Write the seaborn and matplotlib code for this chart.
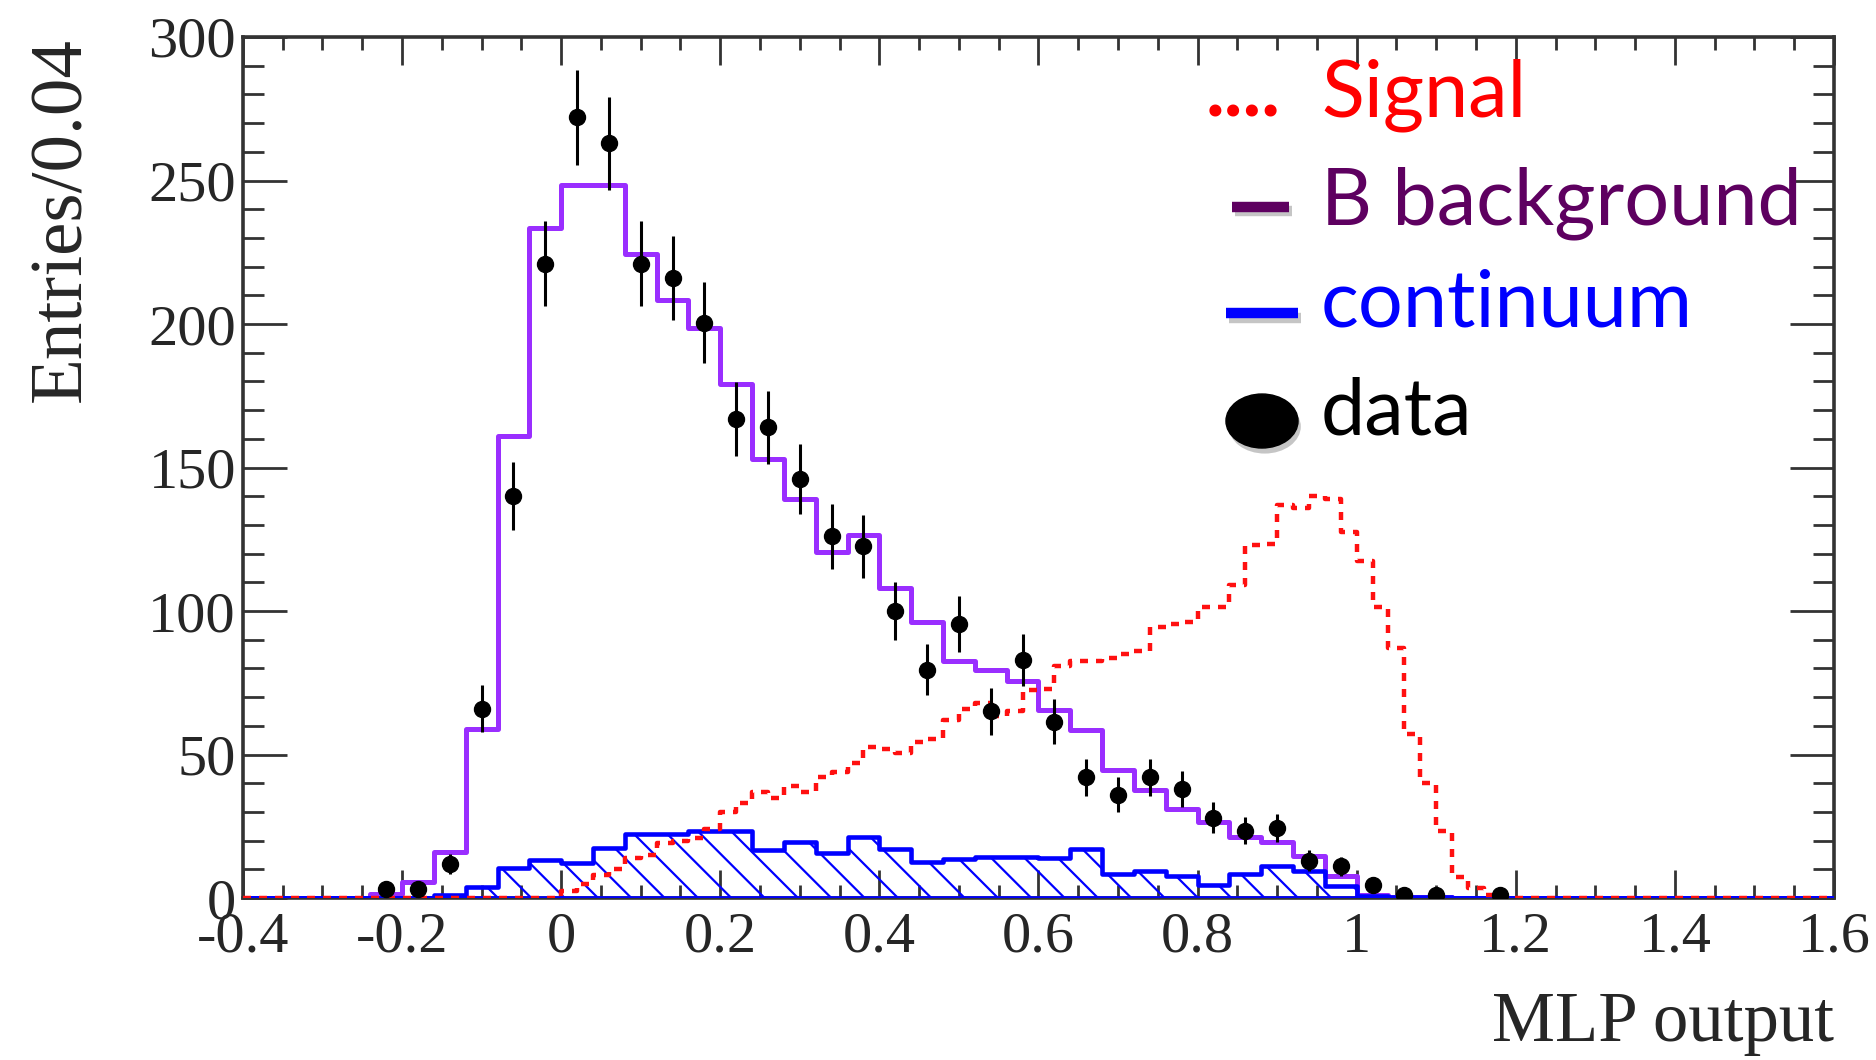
import numpy as np
import matplotlib
matplotlib.use("Agg")
import matplotlib.pyplot as plt
import matplotlib.patheffects as pe
from matplotlib.patches import Ellipse
from matplotlib.ticker import MultipleLocator
import seaborn as sns

# ---- data ----
# MLP output histograms, 0.04 wide bins from -0.4 to 1.6 (50 bins)
b_background = [0, 0, 0, 0, 1.5, 5.5, 16, 59, 161, 233.5,
                248.5, 248.5, 224.5, 208.5, 198.5, 179, 153, 139, 120.5, 126.5,
                108, 96, 82.5, 79.5, 75.5, 65.5, 58.7, 44.5, 37.5, 31,
                26.5, 21.2, 19.5, 14.8, 7.8, 1.2, 0.5, 0.3, 0, 0,
                0, 0, 0, 0, 0, 0, 0, 0, 0, 0]
continuum = [0, 0, 0, 0, 0, 0, 1, 3.7, 10.6, 13.2,
             12.3, 17.3, 22.3, 22.3, 23.5, 23.5, 16.7, 19.5, 15.8, 21.1,
             17, 12.6, 13.5, 14.4, 14.4, 13.8, 17, 8.4, 9.3, 7.6,
             4.7, 8.5, 11.1, 9.3, 4.1, 0.8, 0.4, 0.3, 0, 0,
             0, 0, 0, 0, 0, 0, 0, 0, 0, 0]
# signal uses 0.02 wide bins from -0.4 to 1.6 (100 bins)
signal = ([0] * 20 +
          [2.5, 5, 8, 10, 14, 15, 19, 20, 21, 24,
           30, 33, 37, 35, 39, 37, 42, 44, 47, 52.5,
           52, 50.5, 54.5, 55.5, 62, 66, 68, 63.5, 65, 72.5,
           73, 81, 82.5, 82.5, 83.5, 85, 86, 94.5, 95.5, 96,
           101.5, 101.5, 109, 123, 123.5, 137, 136, 140, 139, 127.5,
           117.5, 101.5, 87, 57, 40, 23.5, 7.5, 3.5, 1] +
          [0] * 21)

data_x = [-0.22, -0.18, -0.14, -0.10, -0.06, -0.02, 0.02, 0.06, 0.10, 0.14,
          0.18, 0.22, 0.26, 0.30, 0.34, 0.38, 0.42, 0.46, 0.50, 0.54,
          0.58, 0.62, 0.66, 0.70, 0.74, 0.78, 0.82, 0.86, 0.90, 0.94,
          0.98, 1.02, 1.06, 1.10, 1.18]
data_y = [3.3, 3, 12, 66, 140, 221, 272, 263, 221, 216,
          200.5, 167, 164, 146, 126, 122.5, 100, 79.5, 95.5, 65,
          83, 61.5, 42, 36, 42, 38, 28, 23.5, 24.5, 13,
          11, 4.5, 1, 1, 1]
data_err = [1.8, 1.7, 3.5, 8.1, 11.8, 14.9, 16.5, 16.2, 14.9, 14.7,
            14.2, 12.9, 12.8, 12.1, 11.2, 11.1, 10.0, 8.9, 9.8, 8.1,
            9.1, 7.8, 6.5, 6.0, 6.5, 6.2, 5.3, 4.8, 4.9, 3.6,
            3.3, 2.1, 1.0, 1.0, 1.0]

x_ticks = [-0.4, -0.2, 0, 0.2, 0.4, 0.6, 0.8, 1.0, 1.2, 1.4, 1.6]
x_tick_labels = ["-0.4", "-0.2", "0", "0.2", "0.4", "0.6", "0.8", "1", "1.2", "1.4", "1.6"]
y_ticks = [0, 50, 100, 150, 200, 250, 300]

legend_entries = ["Signal", "B background", "continuum", "data"]

# ---- binning ----
x_range = (-0.4, 1.6)
n_bins = len(b_background)
n_sig_bins = len(signal)
edges = np.linspace(*x_range, n_bins + 1)
centers = 0.5 * (edges[:-1] + edges[1:])
sig_edges = np.linspace(*x_range, n_sig_bins + 1)
sig_centers = 0.5 * (sig_edges[:-1] + sig_edges[1:])

sns.set_theme(style="ticks")
plt.rcParams["font.family"] = ["Liberation Serif", "DejaVu Serif"]
plt.rcParams["hatch.linewidth"] = 1.6

fig = plt.figure(figsize=(18.76, 10.6), dpi=100)
ax = fig.add_axes([0.1295, 0.1528, 0.8481, 0.8123])

# continuum: hatched blue histogram
sns.histplot(x=centers, weights=continuum, bins=n_bins, binrange=x_range,
             element="step", fill=True, color="#0000FF", facecolor="none",
             edgecolor="#0000FF", hatch="\\", linewidth=3.3, ax=ax, zorder=3)
# B background: purple step
sns.histplot(x=centers, weights=b_background, bins=n_bins, binrange=x_range,
             element="step", fill=False, color="#9A2EFF", linewidth=3.6, ax=ax, zorder=2)
# signal: red dashed step
sns.histplot(x=sig_centers, weights=signal, bins=n_sig_bins, binrange=x_range,
             element="step", fill=False, color="#FF1010", linewidth=3.2,
             linestyle=(0, (1.8, 1.8)), ax=ax, zorder=4)
# data points
ax.errorbar(data_x, data_y, yerr=data_err, fmt="o", color="black", ms=11.5,
            elinewidth=2.2, capsize=0, zorder=5)

ax.set_xlim(*x_range)
ax.set_ylim(0, 300)
ax.set_xticks(x_ticks)
ax.set_xticklabels(x_tick_labels)
ax.set_yticks(y_ticks)
ax.xaxis.set_minor_locator(MultipleLocator(0.05))
ax.yaxis.set_minor_locator(MultipleLocator(10))

ax.tick_params(axis="both", which="both", direction="in", top=True, right=True,
               color="#333333", width=2.0, labelsize=42)
ax.tick_params(axis="x", which="major", length=20, pad=10)
ax.tick_params(axis="x", which="minor", length=9.5)
ax.tick_params(axis="y", which="major", length=32, pad=5)
ax.tick_params(axis="y", which="minor", length=15)
for s in ax.spines.values():
    s.set_linewidth(2.6)
    s.set_color("#333333")

ax.set_xlabel("MLP output", loc="right", fontsize=51)
ax.xaxis.set_label_coords(1.0, -0.108)
ax.set_ylabel("Entries/0.04", loc="top", fontsize=54)
ax.yaxis.set_label_coords(-0.092, 1.0)

# ---- hand-made legend, as on the slide ----
lfont = dict(family=["Lato", "DejaVu Sans"], fontsize=57)
shadow_line = [pe.SimpleLineShadow(offset=(2, -3), shadow_color="gray", alpha=0.45), pe.Normal()]

ax.text(0.605, 0.908, "....", color="#FF0000", transform=ax.transAxes, va="baseline",
        fontweight="bold", **lfont)
ax.text(0.6776, 0.908, legend_entries[0], color="#FF0000", transform=ax.transAxes,
        va="baseline", **lfont)

ax.plot([0.6215, 0.6575], [0.8026, 0.8026], color="#5E0060", lw=7.5, transform=ax.transAxes,
        solid_capstyle="butt", path_effects=shadow_line, clip_on=False)
ax.text(0.6776, 0.7817, legend_entries[1], color="#5E0060", transform=ax.transAxes,
        va="baseline", **lfont)

ax.plot([0.618, 0.663], [0.679, 0.679], color="#0000FF", lw=7.5, transform=ax.transAxes,
        solid_capstyle="butt", path_effects=shadow_line, clip_on=False)
ax.text(0.6776, 0.6638, legend_entries[2], color="#0000FF", transform=ax.transAxes,
        va="baseline", **lfont)

dot = Ellipse((0.6405, 0.554), 0.0453, 0.0627, transform=ax.transAxes, color="black",
              path_effects=[pe.SimplePatchShadow(offset=(2, -4), shadow_rgbFace="gray", alpha=0.45),
                            pe.Normal()])
ax.add_patch(dot)
ax.text(0.6776, 0.5389, legend_entries[3], color="black", transform=ax.transAxes,
        va="baseline", **lfont)

fig.savefig("out.png", dpi=100, facecolor="white")
plt.close(fig)
